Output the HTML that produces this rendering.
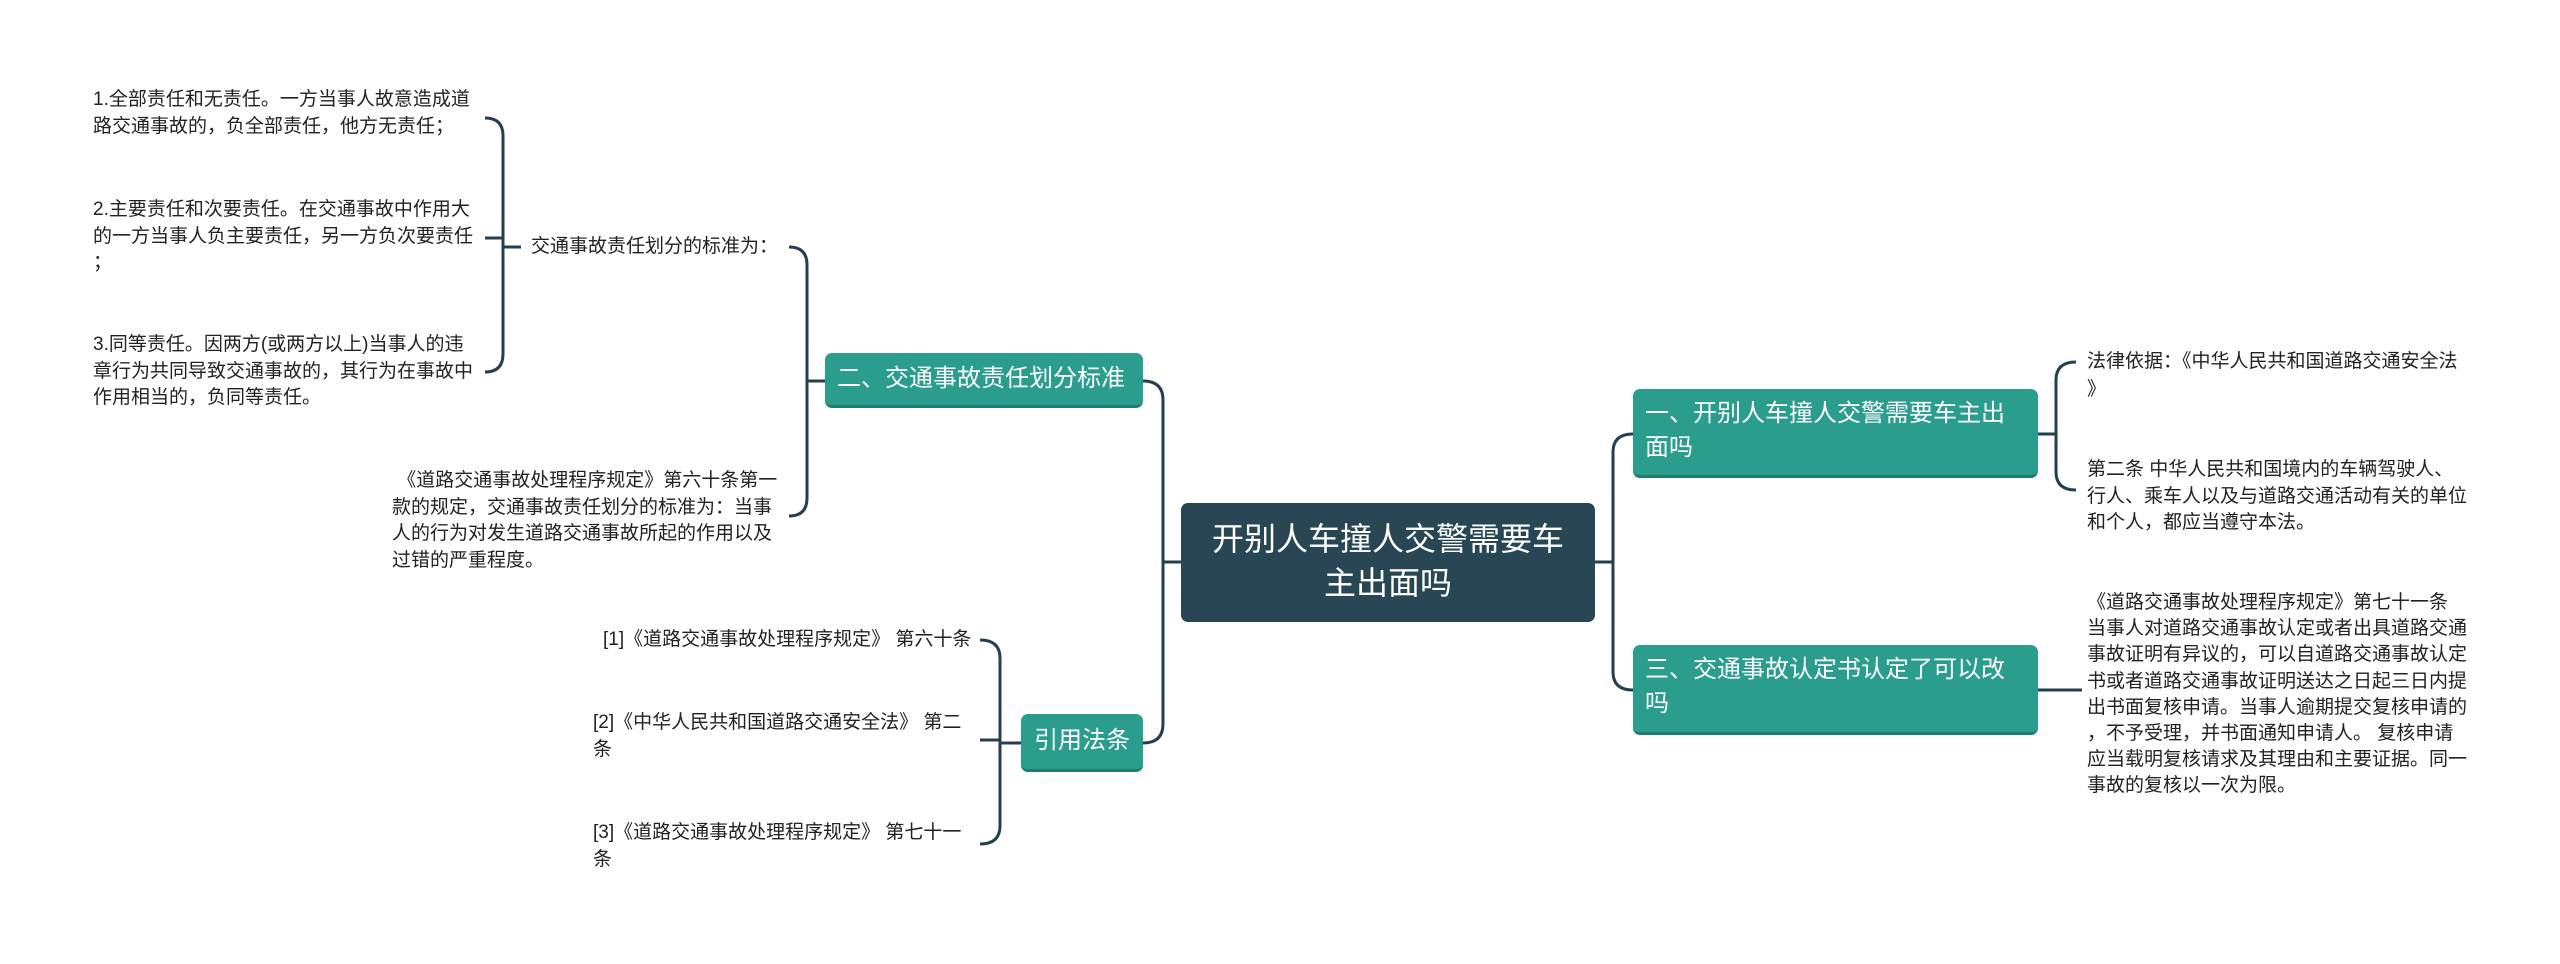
<!DOCTYPE html>
<html><head><meta charset="utf-8"><style>
body{margin:0;width:2560px;height:964px;background:#fff;position:relative;overflow:hidden;font-family:"Liberation Sans","Noto Sans CJK SC",sans-serif;}
.t{position:absolute;font-size:19px;line-height:26.5px;color:#222;white-space:nowrap}
.n{position:absolute;background:#2a9d8c;color:#fff;border-radius:7px;font-size:24px;line-height:34px;box-sizing:border-box;border-bottom:3px solid #1f7d70;white-space:nowrap}
</style></head><body>
<svg width="2560" height="964" style="position:absolute;left:0;top:0" fill="none" stroke="#263f4d" stroke-width="3">
<path d="M1181 562 H1163"/>
<path d="M1143 381 Q1163 381 1163 400 V724 Q1163 743 1143 743"/>
<path d="M825 381 H807"/>
<path d="M789 247 Q807 247 807 265 V498 Q807 516 789 516"/>
<path d="M521 247 H503"/>
<path d="M485 118 Q503 118 503 136 V354 Q503 372 485 372"/>
<path d="M503 238 H485"/>
<path d="M1021 743 H1000"/>
<path d="M980 640 Q1000 640 1000 658 V826 Q1000 844 980 844"/>
<path d="M1000 740 H980"/>
<path d="M1595 562 H1613"/>
<path d="M1633 434 Q1613 434 1613 452 V672 Q1613 690 1633 690"/>
<path d="M2038 434 H2056"/>
<path d="M2076 362 Q2056 362 2056 380 V472 Q2056 490 2076 490"/>
<path d="M2038 690 H2082"/>
</svg>

<div style="position:absolute;left:1181px;top:503px;width:414px;height:119px;background:#284654;border-radius:7px;color:#fff;font-size:32px;line-height:44px;text-align:center;padding-top:14px;box-sizing:border-box">开别人车撞人交警需要车<br>主出面吗</div>

<div class="n" style="left:1633px;top:389px;width:405px;height:89px;padding:8px 12px">一、开别人车撞人交警需要车主出<br>面吗</div>
<div class="n" style="left:1633px;top:645px;width:405px;height:90px;padding:8px 12px">三、交通事故认定书认定了可以改<br>吗</div>
<div class="n" style="left:825px;top:353px;width:318px;height:55px;padding:9px 12px">二、交通事故责任划分标准</div>
<div class="n" style="left:1021px;top:714px;width:122px;height:58px;padding:10px 13px">引用法条</div>

<div class="t" style="left:93px;top:87px">1.全部责任和无责任。一方当事人故意造成道<br>路交通事故的，负全部责任，他方无责任；</div>
<div class="t" style="left:93px;top:197px">2.主要责任和次要责任。在交通事故中作用大<br>的一方当事人负主要责任，另一方负次要责任<br>；</div>
<div class="t" style="left:93px;top:332px">3.同等责任。因两方(或两方以上)当事人的违<br>章行为共同导致交通事故的，其行为在事故中<br>作用相当的，负同等责任。</div>
<div class="t" style="left:531px;top:234px">交通事故责任划分的标准为：</div>
<div class="t" style="left:392px;top:468px">&nbsp;《道路交通事故处理程序规定》第六十条第一<br>款的规定，交通事故责任划分的标准为：当事<br>人的行为对发生道路交通事故所起的作用以及<br>过错的严重程度。</div>

<div class="t" style="left:603px;top:627px">[1]《道路交通事故处理程序规定》 第六十条</div>
<div class="t" style="left:593px;top:710px">[2]《中华人民共和国道路交通安全法》 第二<br>条</div>
<div class="t" style="left:593px;top:820px">[3]《道路交通事故处理程序规定》 第七十一<br>条</div>

<div class="t" style="left:2087px;top:348px;line-height:28px">法律依据：《中华人民共和国道路交通安全法<br>》</div>
<div class="t" style="left:2087px;top:457px">第二条 中华人民共和国境内的车辆驾驶人、<br>行人、乘车人以及与道路交通活动有关的单位<br>和个人，都应当遵守本法。</div>
<div class="t" style="left:2087px;top:590px;line-height:26.2px">《道路交通事故处理程序规定》第七十一条<br>当事人对道路交通事故认定或者出具道路交通<br>事故证明有异议的，可以自道路交通事故认定<br>书或者道路交通事故证明送达之日起三日内提<br>出书面复核申请。当事人逾期提交复核申请的<br>，不予受理，并书面通知申请人。 复核申请<br>应当载明复核请求及其理由和主要证据。同一<br>事故的复核以一次为限。</div>
</body></html>
